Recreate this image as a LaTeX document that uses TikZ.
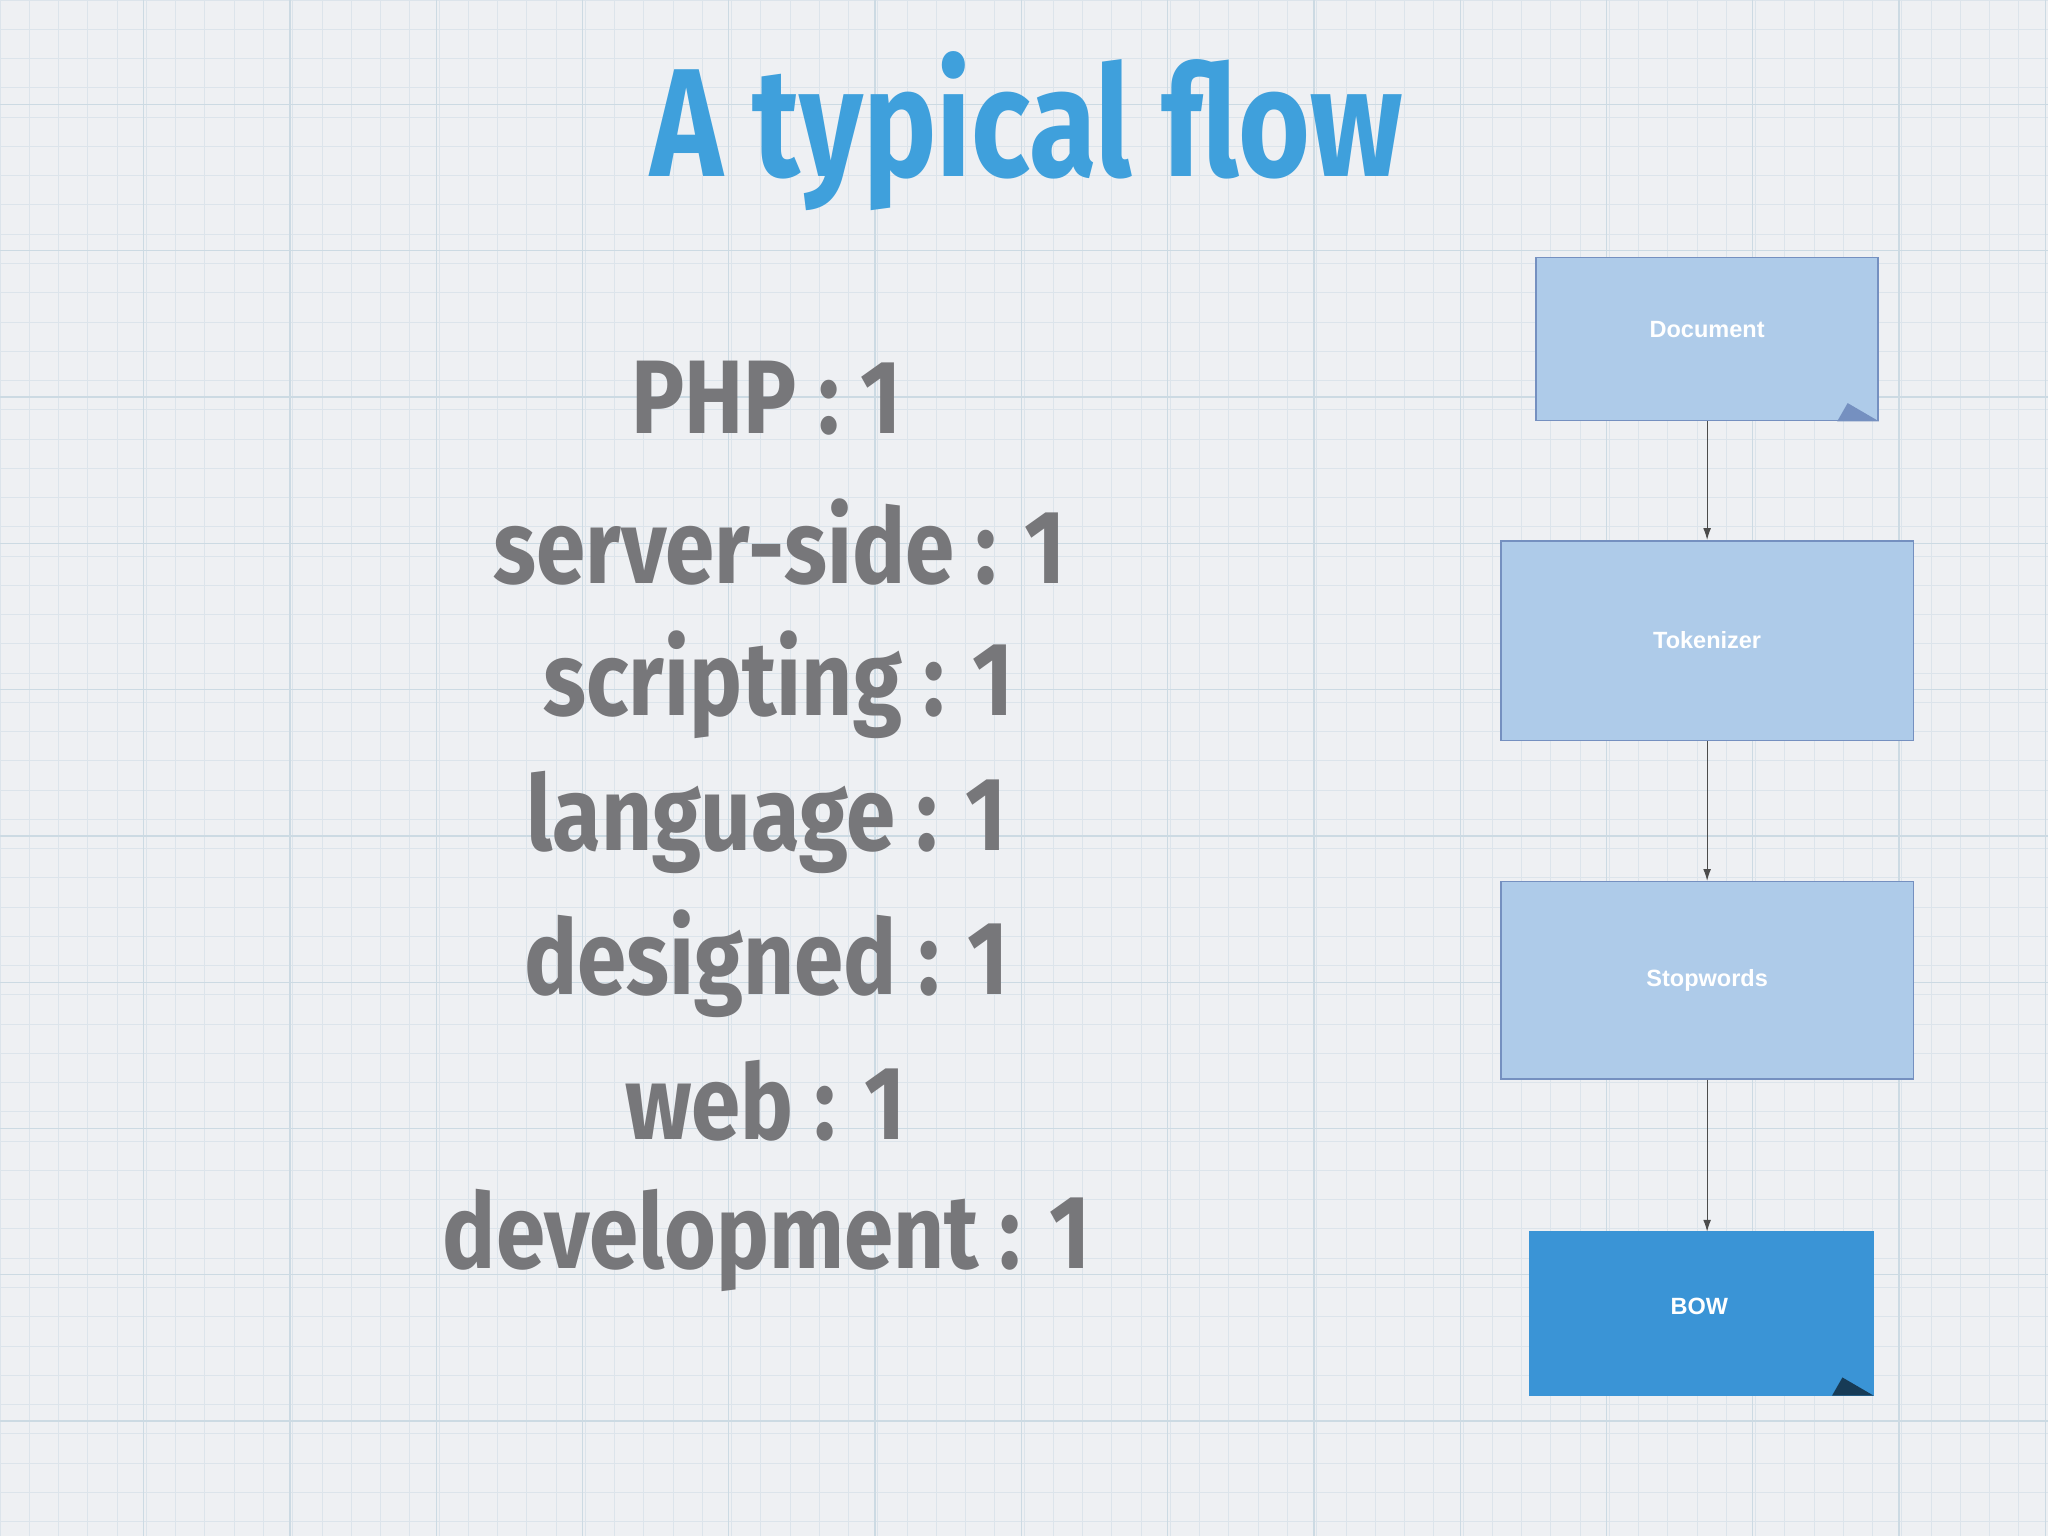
\documentclass[tikz,border=0pt]{standalone}
\usepackage{fontspec}
\setmainfont{Fira Sans}
\newfontfamily\boxfont{Liberation Sans}
\usetikzlibrary{arrows.meta}
\definecolor{bg}{HTML}{EEF0F3}
\definecolor{gridc}{HTML}{DCE4EB}
\definecolor{gridm}{HTML}{CCDAE3}
\definecolor{titlec}{HTML}{3FA0DC}
\definecolor{wordc}{HTML}{77777A}
\definecolor{lightbox}{HTML}{AECBE9}
\definecolor{boxedge}{HTML}{7590C0}
\definecolor{darkbox}{HTML}{3A94D6}
\tikzset{
  flowbox/.style={draw=boxedge, line width=1.2pt, fill=lightbox, inner sep=0pt},
  boxtext/.style={text=white, font=\boxfont\bfseries\fontsize{18}{22}\selectfont},
  word/.style={text=wordc, font=\bfseries\fontsize{80}{90}\selectfont, anchor=center, xscale=0.85},
  flowarrow/.style={draw=black!70, line width=0.8pt, -{Latex[length=9pt,width=6pt]}}
}
\begin{document}
\begin{tikzpicture}[x=1pt,y=-1pt]
\fill[bg] (0,0) rectangle (1568,1176);
\useasboundingbox (0,0) rectangle (1568,1176);
\foreach \i in {0,...,70} {
  \draw[gridc, line width=0.5pt] (\i*22.4,0) -- (\i*22.4,1176);
}
\foreach \i in {0,...,53} {
  \draw[gridc, line width=0.5pt] (0,\i*22.4) -- (1568,\i*22.4);
}
\foreach \i in {0,...,14} {
  \draw[gridm, line width=1pt] (\i*112+110,0) -- (\i*112+110,1176);
}
\foreach \i in {0,...,10} {
  \draw[gridm, line width=1pt] (0,\i*112+80) -- (1568,\i*112+80);
}
\node[text=titlec, font=\bfseries\fontsize{118}{130}\selectfont, xscale=0.8] (title) at (786,100) {A typical flow};
\node[word] (w1) at (587,305) {PHP : 1};
\node[word] (w2) at (597,415) {server-side : 1};
\node[word] (w3) at (596,524) {scripting : 1};
\node[word] (w4) at (587,630) {language : 1};
\node[word] (w5) at (587,738) {designed : 1};
\node[word] (w6) at (586,843) {web : 1};
\node[word] (w7) at (587,950) {development : 1};
\node[flowbox, minimum width=262, minimum height=125] (doc) at (1307,259.5) {};
\node[flowbox, minimum width=316, minimum height=153] (tok) at (1307,490.5) {};
\node[flowbox, minimum width=316, minimum height=151] (stop) at (1307,750.5) {};
\node[flowbox, fill=darkbox, draw=darkbox, minimum width=263, minimum height=125] (bow) at (1302.5,1005.5) {};
\node[boxtext] (doct) at (1307,252) {Document};
\node[boxtext] (tokt) at (1307,490) {Tokenizer};
\node[boxtext] (stopt) at (1307,751) {Stopwords};
\node[boxtext] (bowt) at (1301,1000) {BOW};
\coordinate (bowin) at (1307,943);
\fill[boxedge] (doc.south east) -- ++(-32,0) -- ++(8,-14) -- cycle;
\fill[black!60!darkbox] (bow.south east) -- ++(-32,0) -- ++(8,-14) -- cycle;
\draw[flowarrow] (doc) -- (tok);
\draw[flowarrow] (tok) -- (stop);
\draw[flowarrow] (stop) -- (bowin);
\end{tikzpicture}
\end{document}
